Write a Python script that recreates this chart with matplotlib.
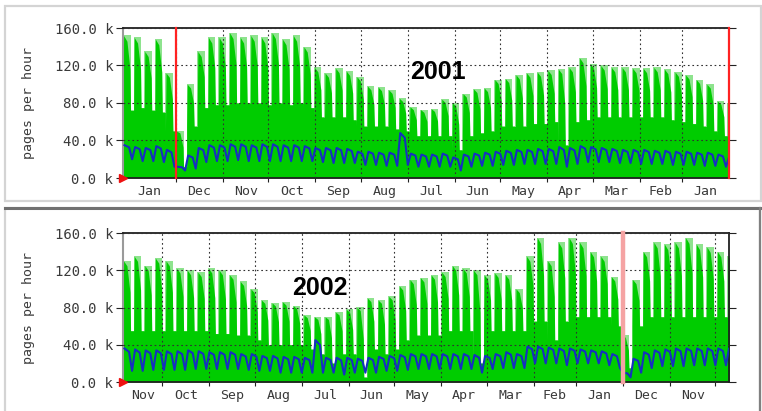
import matplotlib
matplotlib.use("Agg")
import matplotlib.pyplot as plt
import numpy as np
from matplotlib.patches import Rectangle

# weekly values, thousands of pages per hour; week 0 = most recent (left edge)
top_peak = [152, 150, 135, 148, 112, 50, 100, 135, 150, 150,
            155, 150, 152, 150, 155, 148, 152, 140, 118, 112,
            117, 114, 108, 98, 97, 94, 85, 76, 73, 74,
            84, 80, 90, 95, 96, 105, 106, 110, 112, 113,
            115, 116, 118, 128, 122, 120, 118, 118, 117, 117,
            118, 116, 113, 110, 105, 100, 82, 80]
top_low = [72, 75, 72, 70, 50, 12, 55, 75, 78, 78,
           80, 80, 80, 78, 80, 78, 80, 75, 65, 65,
           65, 62, 55, 55, 55, 52, 50, 45, 45, 45,
           45, 30, 45, 48, 50, 55, 55, 55, 58, 58,
           60, 35, 60, 62, 65, 65, 65, 65, 65, 65,
           65, 62, 60, 58, 55, 50, 45, 45]
top_blue_hi = [35, 33, 32, 34, 30, 12, 24, 32, 35, 35,
               36, 36, 35, 36, 36, 35, 35, 34, 32, 32,
               32, 31, 28, 28, 27, 27, 48, 26, 25, 25,
               26, 22, 25, 26, 27, 28, 29, 30, 30, 31,
               31, 33, 32, 34, 33, 32, 31, 30, 30, 30,
               29, 29, 28, 28, 27, 27, 25, 22]
top_blue_lo = [20, 18, 18, 17, 12, 8, 10, 17, 18, 18,
               19, 18, 18, 18, 18, 18, 18, 18, 17, 16,
               16, 16, 14, 14, 13, 13, 14, 12, 12, 12,
               12, 8, 12, 13, 13, 14, 14, 15, 15, 15,
               15, 12, 15, 17, 17, 17, 16, 16, 15, 15,
               15, 14, 14, 14, 13, 13, 12, 10]

bot_peak = [130, 135, 125, 133, 130, 122, 120, 118, 122, 120,
            115, 108, 100, 88, 85, 86, 82, 72, 70, 70,
            75, 78, 80, 90, 88, 92, 103, 110, 112, 115,
            118, 125, 122, 120, 115, 117, 115, 100, 135, 155,
            130, 150, 155, 150, 140, 135, 113, 50, 110, 140,
            150, 148, 150, 155, 148, 145, 140, 135]
bot_low = [55, 55, 55, 55, 55, 55, 55, 55, 52, 52,
           50, 50, 45, 40, 40, 40, 40, 35, 30, 20,
           30, 30, 5, 35, 30, 35, 45, 50, 50, 50,
           55, 55, 55, 20, 55, 55, 55, 55, 65, 65,
           45, 65, 70, 70, 70, 70, 60, 15, 60, 70,
           70, 70, 70, 70, 70, 70, 70, 70]
bot_blue_hi = [36, 35, 34, 34, 33, 33, 34, 33, 32, 32,
               32, 30, 30, 28, 28, 27, 27, 26, 45, 26,
               26, 26, 25, 26, 27, 28, 29, 30, 30, 30,
               30, 30, 30, 29, 28, 30, 32, 30, 38, 38,
               37, 36, 36, 35, 34, 33, 30, 10, 25, 32,
               34, 35, 36, 36, 36, 36, 36, 36]
bot_blue_lo = [12, 12, 13, 13, 13, 13, 14, 14, 14, 14,
               14, 13, 12, 12, 10, 10, 10, 10, 10, 10,
               8, 10, 10, 10, 12, 12, 13, 14, 14, 14,
               14, 14, 14, 10, 14, 15, 15, 15, 20, 20,
               20, 18, 20, 20, 20, 18, 15, 5, 10, 15,
               17, 17, 17, 18, 18, 18, 18, 18]

# month labels (left to right) and month lengths in days
top_months = ["Jan", "Dec", "Nov", "Oct", "Sep", "Aug", "Jul", "Jun",
              "May", "Apr", "Mar", "Feb", "Jan"]
top_month_days = [35, 31, 30, 31, 30, 31, 31, 30, 31, 30, 31, 28, 31]
top_year_lines = [35, 400]
bot_months = ["Nov", "Oct", "Sep", "Aug", "Jul", "Jun", "May", "Apr",
              "Mar", "Feb", "Jan", "Dec", "Nov"]
bot_month_days = [26, 31, 30, 31, 31, 30, 31, 30, 31, 28, 31, 31, 30]
bot_year_lines = [330]

W, H = 762, 411
fig = plt.figure(figsize=(W / 100, H / 100), dpi=100)
fig.patch.set_facecolor("white")


def px_rect(x0, y0, x1, y1):
    return [x0 / W, 1 - y1 / H, (x1 - x0) / W, (y1 - y0) / H]


# panel frames
fig.add_artist(Rectangle((5 / W, 1 - 201 / H), 756 / W, 195 / H, transform=fig.transFigure,
                         fill=False, ec="#d4d4d4", lw=1.6))
fig.add_artist(Rectangle((5 / W, -0.02), 755 / W, 1 - 208 / H + 0.02, transform=fig.transFigure,
                         fill=False, ec="#d4d4d4", lw=1.6))
fig.add_artist(plt.Line2D([5 / W, 761 / W], [1 - 208 / H, 1 - 208 / H], transform=fig.transFigure,
                          color="#707070", lw=2.2))
fig.add_artist(plt.Line2D([760 / W, 760 / W], [0, 1 - 208 / H], transform=fig.transFigure,
                          color="#808080", lw=1.6))

mono = "DejaVu Sans Mono"


def week_steps(hi, lo):
    xs, ys = [], []
    for w, (h, l) in enumerate(zip(hi, lo)):
        d0 = 7 * w
        xs += [d0, d0 + 5]
        ys += [h, l]
    xs.append(7 * len(hi))
    ys.append(lo[-1])
    return np.array(xs), np.array(ys)


def week_spikes(hi, lo):
    # same weekly values, drawn as sloped spikes (solid part of the area)
    xs, ys = [], []
    for w, (h, l) in enumerate(zip(hi, lo)):
        d0 = 7 * w
        xs += [d0, d0 + 0.4, d0 + 2.6, d0 + 4.6, d0 + 5, d0 + 7]
        ys += [l, h, h * 0.96, l + (h - l) * 0.55, l, l]
    return np.array(xs), np.array(ys)


def week_zigzag(hi, lo):
    xs, ys = [], []
    for w, (h, l) in enumerate(zip(hi, lo)):
        d0 = 7 * w
        xs += [d0 + 1, d0 + 4, d0 + 6]
        ys += [h, h * 0.85 + l * 0.15, l]
    return np.array(xs), np.array(ys)


def panel(rect, peak, low, bhi, blo, months, mdays, year_lines, red_color, red_lw,
          year, year_xy):
    ax = fig.add_axes(rect)
    xs, ys = week_steps(peak, low)
    ax.fill_between(xs, 0, ys, step="post", color="#8ee38e", lw=0, zorder=1)
    sx, sy = week_spikes(peak, low)
    ax.fill_between(sx, 0, sy, color="#00cc00", lw=0, zorder=1.2)
    bx, by = week_zigzag(bhi, blo)
    ax.plot(bx, by, color="#1630c0", lw=1.5, zorder=3)

    bounds = np.cumsum(mdays)
    starts = np.concatenate([[0], bounds[:-1]])
    ax.set_xlim(0, 400)
    ax.set_ylim(0, 160)
    ax.set_xticks(bounds[bounds < 400])
    ax.set_xticklabels([])
    ax.set_xticks((starts + bounds) / 2, months, minor=True)
    ax.tick_params(axis="x", which="minor", length=0, pad=5, labelsize=9.5,
                   labelcolor="#3a3a3a")
    ax.tick_params(axis="x", which="major", length=3, direction="out", color="#222222")
    for lab in ax.get_xticklabels(minor=True):
        lab.set_family(mono)
    ax.set_yticks([0, 40, 80, 120, 160])
    ax.set_yticklabels(["%.1f k" % v for v in [0, 40, 80, 120, 160]],
                       family=mono, fontsize=10, color="#3a3a3a")
    ax.tick_params(axis="y", length=5, direction="out", right=True, color="#222222", pad=2)
    ax.set_ylabel("pages per hour", family=mono, fontsize=9.5, color="#3a3a3a", labelpad=14)

    ax.set_axisbelow(False)
    ax.grid(True, which="major", color="#303030", lw=0.8, ls=(0, (1.5, 2.5)), zorder=2.5)
    for d in year_lines:
        ax.axvline(d, color=red_color, lw=red_lw, zorder=4, clip_on=False)
    for s in ["top", "bottom", "right"]:
        ax.spines[s].set_color("#202020")
        ax.spines[s].set_linewidth(1.3)
    ax.spines["left"].set_color("#9a9a9a")
    ax.spines["left"].set_linewidth(1.5)
    ax.plot([0], [0], marker=">", color="#ee1111", ms=6, clip_on=False, zorder=6)
    fig.text(year_xy[0] / W, 1 - year_xy[1] / H, year, ha="center", va="center",
             family="Liberation Sans", fontweight="bold", fontsize=18)
    return ax


panel(px_rect(123, 28, 729, 178), top_peak, top_low, top_blue_hi, top_blue_lo,
      top_months, top_month_days, top_year_lines, "#ff2222", 1.6, "2001", (438, 72))
panel(px_rect(123, 233, 729, 382), bot_peak, bot_low, bot_blue_hi, bot_blue_lo,
      bot_months, bot_month_days, bot_year_lines, "#f5a3a3", 3.2, "2002", (320, 288))

fig.savefig("out.png", dpi=100)
